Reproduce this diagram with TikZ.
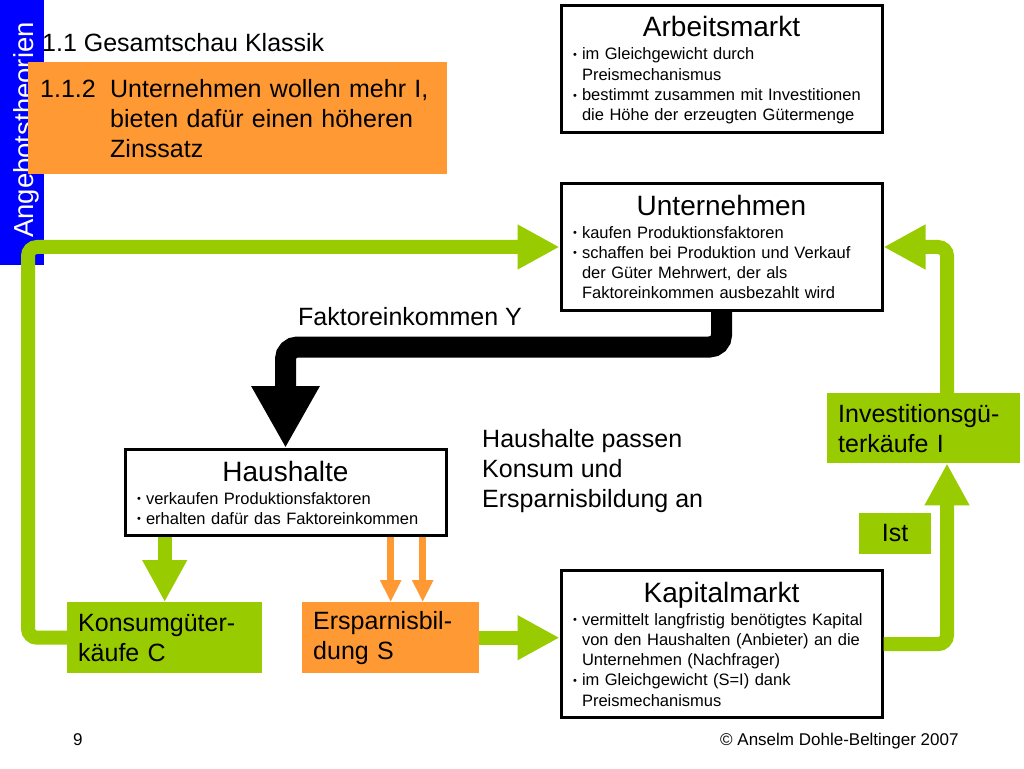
\documentclass[tikz,border=0pt]{standalone}
\usepackage{fontspec}
\setmainfont{Liberation Sans}
\usetikzlibrary{arrows.meta}

\definecolor{gruen}{HTML}{99CC00}
\definecolor{orangefarbe}{HTML}{FF9933}
\definecolor{blaubalken}{HTML}{0000FF}

\newcommand{\titel}[1]{{\centering\fontsize{28}{28}\selectfont\rule[-5pt]{0pt}{31pt}#1\par}\vspace{2.7pt}}
\newcommand{\punkt}{\par\hangindent=9pt\hangafter=1\noindent\makebox[9pt][l]{\raisebox{1.5pt}{\fontsize{11}{11}\selectfont\textbullet}}\strut}

\tikzset{
  marktbox/.style={draw, line width=3pt, fill=white, text width=297pt, inner xsep=12pt,
    inner ysep=5.5pt, align=left, anchor=north, font=\fontsize{16.5}{20.3}\selectfont},
  farbbox/.style={inner xsep=11pt, inner ysep=0pt, align=left, anchor=north west,
    minimum height=71pt, font=\fontsize{25}{30}\selectfont},
  gruenpfeil/.style={draw=gruen, line width=14pt, rounded corners=9pt,
    -{Triangle[length=42pt,width=42pt]}},
  orangepfeil/.style={draw=orangefarbe, line width=7pt, -{Triangle[length=22pt,width=20pt]}},
  schwarzpfeil/.style={draw=black, line width=21pt, rounded corners=12pt,
    -{Triangle[length=62pt,width=64pt]}},
  freitext/.style={inner sep=0pt, anchor=base west, align=left, font=\fontsize{25}{30}\selectfont}
}

\begin{document}
\begin{tikzpicture}[x=1pt, y=-1pt]
  \useasboundingbox[fill=white] (0,0) rectangle (1024,768);

  % Seitenleiste
  \fill[blaubalken] (0,0) rectangle (44,265);
  \node[rotate=90, anchor=base west, inner sep=0pt, text=white,
    font=\fontsize{27.5}{30}\selectfont] (seite) at (33,238) {Angebotstheorien};

  % Kapitel
  \node[freitext] (kapitel) at (42,52) {1.1 Gesamtschau Klassik};
  \node[farbbox, fill=orangefarbe, minimum width=419pt, minimum height=112pt,
    text width=395pt, inner xsep=12pt] (thema) at (28,62)
    {\hangindent=70pt\hangafter=1\noindent\makebox[70pt][l]{1.1.2}Unternehmen wollen mehr I,\newline
     bieten dafür einen höheren\newline Zinssatz\par};

  % Maerkte und Sektoren
  \node[marktbox] (arbeit) at (721.5,4) {\titel{Arbeitsmarkt}
    \punkt im Gleichgewicht durch\newline Preismechanismus
    \punkt bestimmt zusammen mit Investitionen\newline die Höhe der erzeugten Gütermenge\strut\par};
  \node[marktbox] (unter) at (721.5,182) {\titel{Unternehmen}
    \punkt kaufen Produktionsfaktoren
    \punkt schaffen bei Produktion und Verkauf\newline der Güter Mehrwert, der als\newline
      Faktoreinkommen ausbezahlt wird\strut\par};
  \node[marktbox] (haus) at (285.5,448) {\titel{Haushalte}
    \punkt verkaufen Produktionsfaktoren
    \punkt erhalten dafür das Faktoreinkommen\strut\par};
  \node[marktbox] (kapital) at (721.5,569) {\titel{Kapitalmarkt}
    \punkt vermittelt langfristig benötigtes Kapital\newline von den Haushalten (Anbieter) an die\newline
      Unternehmen (Nachfrager)
    \punkt im Gleichgewicht (S=I) dank\newline Preismechanismus\strut\par};

  % Ströme
  \node[farbbox, fill=gruen, minimum width=195pt, text width=173pt] (konsum) at (67,602)
    {Konsumgüter-\\käufe C};
  \node[farbbox, fill=orangefarbe, minimum width=177pt, text width=155pt] (spar) at (302,602)
    {Ersparnisbil-\\dung S};
  \node[farbbox, fill=gruen, minimum width=193pt, text width=171pt, minimum height=70pt] (invest)
    at (827,393) {Investitionsgü-\\terkäufe I};
  \node[fill=gruen, minimum width=72pt, minimum height=41pt, inner sep=0pt,
    font=\fontsize{25}{30}\selectfont] (ist) at (895,533.5) {Ist};

  % Texte
  \node[freitext] (faktor) at (298,325) {Faktoreinkommen Y};
  \node[freitext] (anpassung) at (482,507) {Haushalte passen\\Konsum und\\Ersparnisbildung an};

  % Hilfspunkte
  \coordinate (links) at (28,0);
  \coordinate (rechts) at (947,0);
  \coordinate (knick) at (0,347);
  \coordinate (spar2) at ([xshift=32pt]spar.north);

  % Pfeile
  \draw[schwarzpfeil] (unter.south) -- (unter.south |- knick) -| (haus.north);
  \draw[gruenpfeil] (konsum.west) -- (konsum.west -| links) |- (unter.west);
  \draw[gruenpfeil] (haus.south -| konsum.north) -- (konsum.north);
  \draw[orangepfeil] (haus.south -| spar.north) -- (spar.north);
  \draw[orangepfeil] (haus.south -| spar2) -- (spar2);
  \draw[gruenpfeil] (spar.east) -- (spar.east -| kapital.west);
  \draw[gruenpfeil] (kapital.east) -| (invest.south -| rechts);
  \draw[gruenpfeil] (invest.north -| rechts) |- (unter.east);

  % Fusszeile
  \node[freitext, font=\fontsize{17}{20}\selectfont] (seitenzahl) at (73,745) {9};
  \node[freitext, font=\fontsize{17}{20}\selectfont] (autor) at (720,745) {© Anselm Dohle-Beltinger 2007};
\end{tikzpicture}
\end{document}
